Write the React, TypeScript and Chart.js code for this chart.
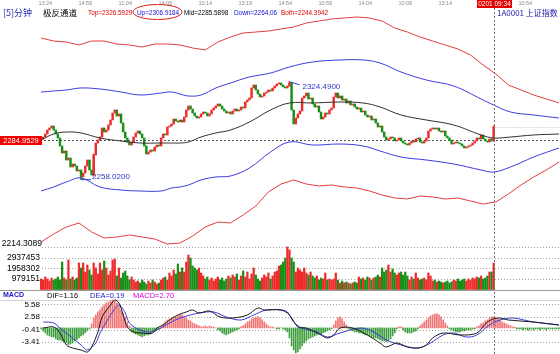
import React, { useEffect, useRef } from "react";
import { Chart, registerables } from "chart.js";

Chart.register(...registerables);

// ---------- data ----------
const PREV_CLOSE = 2284.9529;
const PRICE_FLOOR_LABEL = 2214.3089;
const HIGH_MARK = { i: 118, v: 2324.49, text: "2324.4900" };
const LOW_MARK = { i: 19, v: 2258.02, text: "2258.0200" };

const closes = [
  2285.62, 2286.98, 2289.01, 2291.73, 2293.09, 2294.45, 2291.73, 2289.01, 2286.30, 2280.87,
  2276.11, 2277.47, 2271.36, 2272.72, 2266.61, 2268.64, 2267.29, 2263.89, 2264.57, 2259.82,
  2262.53, 2267.29, 2271.36, 2264.57, 2261.18, 2274.76, 2282.90, 2284.94, 2286.98, 2293.09,
  2290.37, 2291.73, 2295.13, 2298.52, 2303.27, 2305.31, 2301.24, 2302.59, 2296.48, 2290.37,
  2286.30, 2283.58, 2281.55, 2283.58, 2286.98, 2289.69, 2291.05, 2289.01, 2286.30, 2280.87,
  2275.43, 2276.79, 2278.15, 2277.47, 2280.19, 2281.55, 2280.87, 2286.30, 2289.01, 2288.34,
  2293.77, 2294.45, 2295.80, 2299.20, 2297.84, 2297.16, 2298.52, 2297.16, 2300.56, 2305.31,
  2308.03, 2305.99, 2303.27, 2301.24, 2299.88, 2300.56, 2302.59, 2303.95, 2303.27, 2301.24,
  2302.59, 2305.31, 2306.67, 2308.03, 2309.38, 2308.03, 2305.99, 2304.63, 2303.27, 2303.95,
  2302.59, 2304.63, 2305.99, 2304.63, 2305.31, 2307.35, 2306.67, 2310.74, 2312.10, 2313.46,
  2320.25, 2322.29, 2318.89, 2316.17, 2314.14, 2314.82, 2316.85, 2317.53, 2318.89, 2318.21,
  2320.25, 2321.61, 2322.96, 2323.64, 2322.29, 2320.93, 2320.25, 2321.61, 2323.64, 2305.31,
  2295.80, 2299.88, 2302.59, 2304.63, 2313.46, 2314.82, 2316.85, 2312.78, 2313.46, 2309.38,
  2307.35, 2308.03, 2303.95, 2299.20, 2300.56, 2303.27, 2302.59, 2305.31, 2306.67, 2314.14,
  2316.85, 2313.46, 2314.82, 2312.10, 2312.78, 2310.06, 2311.42, 2308.71, 2309.38, 2307.35,
  2305.99, 2306.67, 2303.95, 2304.63, 2301.92, 2300.56, 2301.24, 2298.52, 2299.20, 2296.48,
  2293.77, 2294.45, 2290.37, 2286.98, 2284.94, 2285.62, 2286.98, 2286.30, 2284.26, 2284.94,
  2286.30, 2284.26, 2282.90, 2282.22, 2281.55, 2282.90, 2284.26, 2283.58, 2285.62, 2286.30,
  2283.58, 2282.90, 2284.26, 2286.30, 2291.05, 2292.41, 2293.09, 2292.41, 2293.09, 2291.05,
  2290.37, 2291.05, 2287.66, 2286.30, 2284.94, 2282.22, 2282.90, 2283.58, 2282.90, 2282.22,
  2280.87, 2279.51, 2280.19, 2280.87, 2281.55, 2282.90, 2284.26, 2286.30, 2285.62, 2288.34,
  2285.62, 2284.26, 2283.58, 2285.62, 2284.26, 2293.77,
];

const wickIdx = [19, 25, 118, 215];
const wickLow = [2258.02, 2260.5, 2321.6, 2284.9];
const wickHigh = [2261.2, 2275.4, 2324.49, 2294.45];

const volumes = [
  979000, 886000, 1166000, 979000, 793000, 1072000, 886000, 979000, 1166000, 886000,
  2564000, 1072000, 886000, 2751000, 979000, 1166000, 886000, 1072000, 2471000, 2005000,
  2471000, 1632000, 2285000, 1818000, 1352000, 2471000, 2005000, 1445000, 2471000, 1818000,
  2658000, 2005000, 1352000, 1725000, 2751000, 2844000, 1259000, 2005000, 1072000, 1539000,
  1725000, 1259000, 886000, 1166000, 886000, 699000, 793000, 606000, 886000, 699000,
  513000, 793000, 606000, 886000, 699000, 513000, 606000, 886000, 1072000, 1166000,
  886000, 1539000, 1259000, 1818000, 1445000, 2378000, 1632000, 2005000, 1632000, 2564000,
  3217000, 2937000, 2191000, 2005000, 1818000, 2005000, 1539000, 1259000, 979000, 1166000,
  886000, 1072000, 793000, 979000, 1166000, 886000, 1072000, 793000, 979000, 1259000,
  1072000, 1352000, 1166000, 1445000, 886000, 1259000, 1725000, 1166000, 1632000, 979000,
  1445000, 2005000, 1352000, 979000, 793000, 1072000, 1352000, 1166000, 1539000, 979000,
  1259000, 1632000, 1725000, 2191000, 2285000, 2564000, 2937000, 3963000, 3683000, 2937000,
  2564000, 1632000, 2005000, 1818000, 1632000, 2005000, 1539000, 1352000, 1632000, 1259000,
  1072000, 1259000, 886000, 1072000, 979000, 1539000, 886000, 979000, 886000, 979000,
  1539000, 886000, 606000, 793000, 606000, 699000, 606000, 513000, 606000, 699000,
  606000, 1166000, 979000, 1072000, 886000, 1166000, 1072000, 886000, 1072000, 1166000,
  1352000, 1166000, 2005000, 1632000, 1818000, 2285000, 1632000, 1912000, 1539000, 1352000,
  1539000, 1632000, 1352000, 1632000, 1259000, 886000, 1166000, 979000, 1539000, 1072000,
  886000, 979000, 1072000, 886000, 1539000, 1259000, 793000, 886000, 699000, 793000,
  699000, 606000, 699000, 793000, 606000, 699000, 886000, 793000, 979000, 793000,
  886000, 979000, 793000, 979000, 886000, 1072000, 979000, 1166000, 1072000, 1259000,
  979000, 1072000, 1259000, 1632000, 1632000, 2471000,
];

// smooth channel lines (blue / black)
const bandIdx = [0, 6, 12, 19, 28, 38, 47, 57, 62, 66, 70, 76, 83, 90, 99, 109, 118, 129, 142, 153, 161, 171, 183, 196, 209, 215, 223, 234, 246];
const upBand = [2317.53, 2318.21, 2318.89, 2320.25, 2319.57, 2317.53, 2315.50, 2316.85, 2317.53, 2316.17, 2314.82, 2315.50, 2320.25, 2323.64, 2327.72, 2330.43, 2334.51, 2337.90, 2339.26, 2339.26, 2337.22, 2331.11, 2325.68, 2321.61, 2312.78, 2308.71, 2303.95, 2301.92, 2299.88];
const midBand = [2284.94, 2289.01, 2290.37, 2289.69, 2286.30, 2284.26, 2282.90, 2282.90, 2282.90, 2282.90, 2283.58, 2286.98, 2289.69, 2291.73, 2297.16, 2305.31, 2310.06, 2310.06, 2310.74, 2310.06, 2307.35, 2301.92, 2298.52, 2295.13, 2288.34, 2286.30, 2286.98, 2288.34, 2289.01];
const downBand = [2250.31, 2253.03, 2256.42, 2259.14, 2253.03, 2250.99, 2250.31, 2250.31, 2252.35, 2253.03, 2254.39, 2257.78, 2259.82, 2260.50, 2265.93, 2276.79, 2283.58, 2281.55, 2282.22, 2280.87, 2277.47, 2273.40, 2271.36, 2268.64, 2264.57, 2263.21, 2266.61, 2273.40, 2279.51];

// jagged outer lines (red)
const redIdx = [0, 6, 12, 18, 24, 30, 36, 42, 48, 54, 60, 66, 72, 78, 84, 90, 96, 102, 108, 114, 120, 126, 132, 138, 144, 150, 156, 162, 168, 174, 180, 186, 192, 198, 204, 210, 216, 222, 228, 234, 240, 246];
const topBand = [2354.20, 2352.16, 2351.48, 2349.45, 2352.16, 2352.16, 2350.12, 2349.45, 2348.09, 2350.12, 2350.12, 2349.45, 2347.41, 2346.05, 2351.48, 2354.88, 2357.59, 2358.27, 2358.95, 2360.31, 2361.67, 2364.38, 2365.74, 2367.10, 2367.78, 2368.46, 2367.78, 2365.74, 2360.99, 2358.27, 2354.88, 2352.16, 2349.45, 2346.73, 2342.66, 2335.87, 2329.75, 2322.29, 2318.89, 2315.50, 2312.78, 2310.06];
const botBand = [2215.68, 2221.11, 2225.87, 2228.58, 2222.47, 2218.40, 2219.08, 2220.44, 2219.08, 2217.72, 2214.32, 2215.00, 2219.76, 2225.87, 2229.26, 2228.58, 2234.02, 2240.13, 2249.63, 2255.06, 2257.78, 2255.06, 2253.71, 2254.39, 2253.03, 2252.35, 2250.31, 2247.60, 2245.56, 2244.88, 2246.92, 2246.24, 2244.88, 2245.56, 2243.52, 2241.48, 2242.84, 2248.27, 2254.39, 2259.82, 2264.57, 2270.00];

const macdHist = [
  -0.24, -0.71, -1.19, -1.67, -1.9, -2.14, -2.14, -2.62, -2.86, -2.86,
  -3.1, -3.33, -3.57, -4.05, -3.81, -3.57, -3.1, -2.86, -2.38, -1.9,
  -1.67, -1.19, -0.71, -0.24, 0.95, 2.38, 3.1, 3.81, 4.29, 5.0,
  5.48, 5.95, 6.19, 6.43, 6.67, 6.43, 5.95, 5.24, 4.29, 3.33,
  2.62, 1.43, 0.48, -0.95, -1.19, -1.43, -1.67, -1.9, -2.14, -1.9,
  -1.67, -1.67, -1.43, -0.95, -0.71, -0.48, -0.24, 0.24, 0.95, 1.43,
  1.9, 2.14, 2.38, 2.62, 2.62, 2.86, 3.1, 3.1, 2.62, 2.38,
  1.9, 1.67, 1.19, 0.95, 0.71, 0.48, 0.24, 0.24, 0.48, 0.24,
  0.48, 0.24, 0.24, 0, -0.48, -0.71, -1.19, -1.43, -1.67, -1.43,
  -1.19, -0.95, -0.71, -0.48, -0.24, 0.24, 0.48, 0.95, 1.43, 1.67,
  2.14, 2.38, 2.62, 2.62, 2.38, 1.9, 1.43, 0.95, 0.48, 0.24,
  0.24, 0, -0.24, -0.24, 0, -0.24, -0.48, -0.95, -2.38, -4.29,
  -5.24, -5.95, -5.71, -5.0, -4.29, -3.57, -3.1, -2.62, -2.38, -2.14,
  -1.9, -1.67, -1.43, -1.43, -1.19, -0.95, -0.71, -0.48, -0.24, 0.71,
  1.67, 2.38, 2.62, 2.14, 1.43, 0.71, -0.24, -0.48, -0.71, -0.95,
  -0.95, -1.19, -1.19, -1.43, -1.67, -1.67, -1.9, -2.14, -2.38, -2.38,
  -2.62, -2.86, -3.1, -3.1, -3.33, -3.1, -2.62, -1.9, -1.19, -0.24,
  0.24, 0.24, -0.48, -0.95, -1.19, -1.19, -1.19, -0.95, -0.71, -0.24,
  0.48, 0.95, 1.43, 1.9, 2.38, 2.86, 3.1, 3.33, 3.33, 3.1,
  2.62, 1.9, 1.19, 0.48, -0.24, -0.48, -0.71, -0.95, -0.95, -0.95,
  -0.71, -0.71, -0.48, -0.48, -0.48, -0.24, -0.24, 0.24, 0.48, 0.95,
  1.19, 1.67, 1.9, 2.38, 2.62, 2.62, 2.38, 2.14, 1.9, 1.43,
  1.19, 0.95, 0.71, 0.48, 0.24, 0.24, -0.24, -0.24, -0.24, -0.48,
  -0.24, -0.48, -0.48, -0.24, -0.48, -0.24, -0.24, -0.48, -0.24, -0.24,
  -0.48, -0.24, -0.24, -0.24, -0.24, -0.24, -0.24,
];

const difIdx = [1, 6, 9, 12, 15, 19, 22, 24, 27, 29, 33, 35, 37, 39, 41, 44, 48, 53, 55, 58, 61, 65, 69, 72, 75, 80, 85, 91, 98, 103, 106, 114, 118, 122, 126, 133, 136, 139, 142, 148, 155, 161, 164, 169, 174, 179, 183, 186, 191, 199, 207, 212, 217, 222, 234, 246];
const difVals = [-0.02, 0.22, -1.21, -4.06, -4.78, -5.25, -5.73, -4.54, -0.97, 2.6, 5.46, 6.65, 5.94, 3.08, 0.22, -0.97, -1.21, -1.21, -0.02, 0.7, 1.89, 3.08, 3.8, 4.27, 3.56, 4.03, 2.6, 2.37, 3.08, 4.75, 4.27, 4.27, 3.08, 0.22, -0.02, -1.68, -2.4, -1.68, -0.02, -0.02, -1.68, -3.59, -4.54, -3.59, -4.54, -4.78, -4.06, -2.4, -1.21, -1.68, -1.21, 1.41, 2.37, 1.89, 1.41, 0.7];
const deaIdx = [1, 6, 10, 15, 19, 22, 26, 28, 31, 34, 37, 40, 42, 47, 52, 57, 61, 66, 71, 75, 82, 88, 95, 101, 107, 114, 117, 120, 124, 131, 136, 142, 152, 158, 164, 171, 179, 185, 191, 196, 202, 207, 213, 218, 224, 234, 246];
const deaVals = [1.41, 1.18, -0.5, -2.4, -4.06, -5.25, -3.59, -1.21, 1.41, 3.8, 5.46, 3.56, 1.18, -0.5, -0.97, -0.02, 1.18, 2.37, 3.08, 3.56, 3.8, 2.6, 1.89, 3.08, 4.27, 4.27, 3.8, 1.41, -0.02, -0.97, -2.16, -1.21, -0.02, -0.97, -2.87, -4.06, -4.78, -3.59, -1.68, -1.21, -2.16, -1.68, 0.7, 1.89, 2.37, 1.41, 0.7];

const volTicks = [979151, 1958302, 2937453, 3916604];
const volLabels = ["979151", "1958302", "2937453"];
const macdTicks = [5.58, 2.58, -0.41, -3.41];
const macdLabels = ["5.58", "2.58", "-0.41", "-3.41"];

const timeLabels = ["13:24", "14:59", "11:04", "14:09", "10:14", "13:19", "14:54", "10:59", "14:04", "10:09", "13:14", "14:49", "10:54"];
const TIME_FIRST = 2;
const TIME_STEP = 19;
const CURSOR = 215;
const CURSOR_LABEL = "0201 09:34";

const headerLeft = [
  { text: "Top=2326.5929", color: "#e00000" },
  { text: "Up=2306.9184", color: "#1010d8" },
  { text: "Mid=2285.5898", color: "#000000" },
  { text: "Down=2264.06", color: "#1010d8" },
  { text: "Both=2244.3942", color: "#e00000" },
];
const macdHeader = [
  { text: "DIF=1.16", color: "#000000" },
  { text: "DEA=0.19", color: "#1818c8" },
  { text: "MACD=2.70", color: "#e000e0" },
];

const UP_RED = "#ee2b2b";
const DOWN_GREEN = "#169016";

// ---------- overlay plugin ----------
const overlay = {
  id: "overlay",
  beforeDatasetsDraw(chart: any) {
    const { ctx, chartArea: ca, scales } = chart;
    const { x, yP, yV, yM } = scales;
    ctx.save();
    ctx.lineWidth = 1;
    const h = (py: number, x0: number, x1: number) => {
      const yy = Math.round(py) + 0.5;
      ctx.beginPath();
      ctx.moveTo(x0, yy);
      ctx.lineTo(x1, yy);
      ctx.stroke();
    };
    ctx.setLineDash([1, 2]);
    ctx.strokeStyle = "#a0a0a0";
    volTicks.forEach((v) => h(yV.getPixelForValue(v), ca.left + 2, ca.right));
    macdTicks.forEach((v) => h(yM.getPixelForValue(v), ca.left + 2, ca.right));
    const cx = Math.round(x.getPixelForValue(CURSOR)) + 0.5;
    ctx.strokeStyle = "#b4b4b4";
    h(yP.getPixelForValue(closes[closes.length - 1]), cx, ca.right);
    ctx.setLineDash([2, 2]);
    ctx.strokeStyle = "#505050";
    h(yP.getPixelForValue(PREV_CLOSE), ca.left, ca.right);
    ctx.setLineDash([]);
    ctx.strokeStyle = "#9a9a9a";
    h(yV.getPixelForValue(0) + 0.5, 0, ca.right);
    ctx.strokeStyle = "#d2d2d2";
    h(yM.getPixelForValue(6.65), 0, ca.right);
    ctx.restore();
  },
  afterDatasetsDraw(chart: any) {
    const { ctx, chartArea: ca, scales } = chart;
    const { x, yP, yV, yM } = scales;
    ctx.save();
    const cx = Math.round(x.getPixelForValue(CURSOR)) + 0.5;
    // cursor line
    ctx.setLineDash([2, 2]);
    ctx.strokeStyle = "#707070";
    ctx.lineWidth = 1;
    ctx.beginPath();
    ctx.moveTo(cx, 8);
    ctx.lineTo(cx, ca.bottom);
    ctx.stroke();
    ctx.setLineDash([]);

    ctx.textBaseline = "middle";
    // top time axis
    ctx.font = "5.5px 'Liberation Sans'";
    ctx.fillStyle = "#8a8a8a";
    ctx.textAlign = "center";
    timeLabels.forEach((t, k) => ctx.fillText(t, x.getPixelForValue(TIME_FIRST + k * TIME_STEP), 3.5));
    ctx.fillStyle = "#e40000";
    ctx.fillRect(cx - 17.5, 0, 35, 8);
    ctx.fillStyle = "#ffffff";
    ctx.font = "6.5px 'Liberation Sans'";
    ctx.fillText(CURSOR_LABEL, cx, 4.2);

    // header
    ctx.textAlign = "left";
    ctx.font = "9px 'Noto Sans CJK SC'";
    ctx.fillStyle = "#2a2ab0";
    ctx.fillText("[5]分钟", 3, 13);
    ctx.font = "8.5px 'Noto Sans CJK SC'";
    ctx.fillStyle = "#000";
    ctx.fillText("极反通道", 43, 13);
    const hx = [88, 137, 184, 234, 281];
    ctx.font = "6.4px 'Liberation Sans'";
    headerLeft.forEach((s, k) => {
      ctx.fillStyle = s.color;
      ctx.fillText(s.text, hx[k], 13);
    });
    ctx.strokeStyle = "#d82020";
    ctx.lineWidth = 1;
    ctx.beginPath();
    ctx.ellipse(157.5, 12, 24.5, 7.5, 0, 0, Math.PI * 2);
    ctx.stroke();
    ctx.font = "8px 'Noto Sans CJK SC'";
    ctx.fillStyle = "#1a1aa8";
    ctx.fillText("1A0001 上证指数", 497, 13);

    // left price labels
    const pc = yP.getPixelForValue(PREV_CLOSE);
    ctx.fillStyle = "#f00000";
    ctx.fillRect(0, Math.round(pc) - 4, 42, 9);
    ctx.fillStyle = "#ffffff";
    ctx.font = "7.5px 'Liberation Sans'";
    ctx.textAlign = "center";
    ctx.fillText(PREV_CLOSE.toFixed(4), 21, pc + 0.5);
    ctx.textAlign = "right";
    ctx.fillStyle = "#000";
    ctx.font = "8.5px 'Liberation Sans'";
    ctx.fillText(PRICE_FLOOR_LABEL.toFixed(4), 42, yP.getPixelForValue(PRICE_FLOOR_LABEL));
    volLabels.forEach((t, k) => ctx.fillText(t, 40, yV.getPixelForValue(volTicks[k])));
    ctx.font = "8px 'Liberation Sans'";
    macdLabels.forEach((t, k) => ctx.fillText(t, 40, yM.getPixelForValue(macdTicks[k])));

    // annotations
    ctx.textAlign = "left";
    ctx.strokeStyle = "#3434c8";
    ctx.fillStyle = "#3434c8";
    ctx.font = "8px 'Liberation Sans'";
    const hxp = x.getPixelForValue(HIGH_MARK.i);
    const hyp = yP.getPixelForValue(HIGH_MARK.v);
    ctx.beginPath();
    ctx.moveTo(hxp, hyp);
    ctx.lineTo(hxp + 10, hyp + 3);
    ctx.stroke();
    ctx.fillText(HIGH_MARK.text, hxp + 13, hyp + 5.5);
    const lxp = x.getPixelForValue(LOW_MARK.i);
    const lyp = yP.getPixelForValue(LOW_MARK.v);
    ctx.beginPath();
    ctx.moveTo(lxp, lyp);
    ctx.lineTo(lxp + 10, lyp);
    ctx.stroke();
    ctx.fillText(LOW_MARK.text, lxp + 11, lyp - 2.5);

    // MACD header
    const my = yV.getPixelForValue(0) + 6;
    ctx.font = "bold 7px 'Liberation Sans'";
    ctx.fillStyle = "#1818c8";
    ctx.fillText("MACD", 3, my);
    ctx.font = "7.5px 'Liberation Sans'";
    const mx = [47, 90, 133];
    macdHeader.forEach((s, k) => {
      ctx.fillStyle = s.color;
      ctx.fillText(s.text, mx[k], my);
    });
    ctx.restore();
  },
};

export default function App() {
  const ref = useRef<HTMLCanvasElement>(null);
  useEffect(() => {
    document.body.style.margin = "0";
    const canvas = ref.current!;
    const opens = closes.map((c, i) => (i === 0 ? PREV_CLOSE : closes[i - 1]));
    const colors = closes.map((c, i) => (c >= opens[i] ? UP_RED : DOWN_GREEN));
    const pts = (idx: number[], vals: number[]) => idx.map((xv, k) => ({ x: xv, y: vals[k] }));
    const line = (data: any, color: string, axis: string, tension: number) => ({
      type: "line",
      data,
      borderColor: color,
      borderWidth: 1,
      pointRadius: 0,
      tension,
      yAxisID: axis,
      order: 1,
    });
    const chart = new Chart(canvas, {
      type: "bar",
      data: {
        datasets: [
          line(pts(redIdx, topBand), "#e43c3c", "yP", 0),
          line(pts(bandIdx, upBand), "#3a3ae0", "yP", 0.4),
          line(pts(bandIdx, midBand), "#303030", "yP", 0.4),
          line(pts(bandIdx, downBand), "#3a3ae0", "yP", 0.4),
          line(pts(redIdx, botBand), "#e43c3c", "yP", 0),
          line(pts(difIdx, difVals), "#1a1a1a", "yM", 0.35),
          line(pts(deaIdx, deaVals), "#3c3cd8", "yM", 0.35),
          {
            type: "bar",
            data: wickIdx.map((xv, k) => ({ x: xv, y: [wickLow[k], wickHigh[k]] })),
            backgroundColor: wickIdx.map((i) => colors[i]),
            barThickness: 1,
            grouped: false,
            yAxisID: "yP",
            order: 3,
          },
          {
            type: "bar",
            data: closes.map((c, i) => ({ x: i, y: [opens[i], c] })),
            backgroundColor: colors,
            barThickness: 1.8,
            minBarLength: 1,
            grouped: false,
            yAxisID: "yP",
            order: 2,
          },
          {
            type: "bar",
            data: volumes.map((v, i) => ({ x: i, y: v })),
            backgroundColor: colors,
            barThickness: 1.6,
            grouped: false,
            yAxisID: "yV",
            order: 2,
          },
          {
            type: "bar",
            data: macdHist.map((v, i) => ({ x: i, y: v })),
            backgroundColor: macdHist.map((v) => (v >= 0 ? "#f07474" : "#3f9f3f")),
            barThickness: 1,
            grouped: false,
            yAxisID: "yM",
            order: 4,
          },
        ] as any,
      },
      options: {
        responsive: false,
        animation: false,
        devicePixelRatio: 1,
        events: [],
        layout: { padding: { left: 40, right: 0, top: 0, bottom: 0 } },
        plugins: { legend: { display: false }, tooltip: { enabled: false } },
        scales: {
          x: { type: "linear", min: -0.5, max: 246.5, display: false, offset: false },
          yP: { type: "linear", min: 2139.63, max: 2380, display: false },
          yV: { type: "linear", min: -6014754, max: 26996454, display: false },
          yM: { type: "linear", min: -6.206, max: 78.08, display: false },
        },
      } as any,
      plugins: [overlay],
    });
    return () => chart.destroy();
  }, []);
  return (
    <div style={{ position: "fixed", left: 0, top: 0, width: 560, height: 354, background: "#fff" }}>
      <canvas ref={ref} width={560} height={354} style={{ display: "block" }} />
    </div>
  );
}
